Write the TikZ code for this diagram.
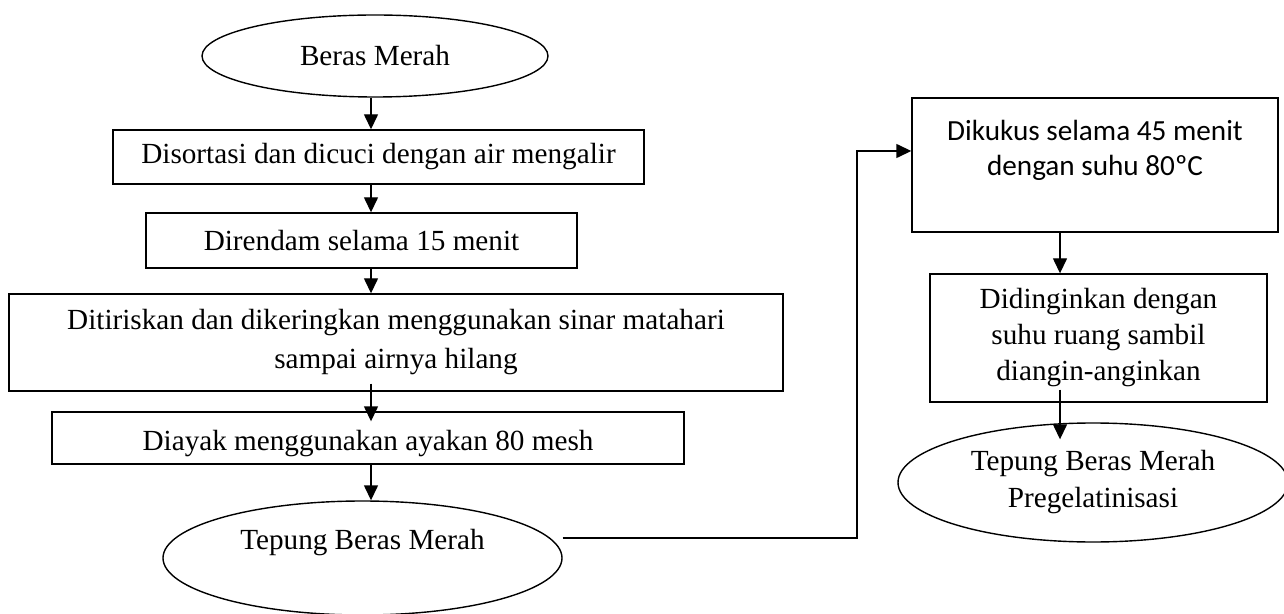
\documentclass[tikz,border=0pt]{standalone}
\usepackage{fontspec}
\setmainfont{Liberation Serif}
\newfontfamily\calfont{Carlito}
\usetikzlibrary{arrows.meta,shapes.geometric}
\tikzset{
  stepbox/.style={draw,line width=0.7pt,align=center,inner sep=0pt,
                  font=\fontsize{14.6}{18.5}\selectfont},
  term/.style={stepbox,ellipse},
  arr/.style={-{Triangle[length=7.5pt,width=7pt]},line width=0.7pt},
}

\begin{document}
\begin{tikzpicture}[x=0.5pt,y=-0.5pt]
  \useasboundingbox (0,0) rectangle (1284,614);
  \coordinate (lc) at (371,0);
  \coordinate (rc) at (1060,0);
  \coordinate (bend) at (857,151);
  \node[term,minimum width=173pt,minimum height=41pt] (bm) at (375,56) {Beras Merah};
  \node[stepbox,minimum width=265.5pt,minimum height=27pt] (d1) at (378.5,157) {Disortasi dan dicuci dengan air mengalir};
  \node[stepbox,minimum width=215.5pt,minimum height=27.5pt] (d2) at (361.5,240.5) {Direndam selama 15 menit};
  \node[stepbox,minimum width=387pt,minimum height=48.5pt,font=\fontsize{14.6}{19.5}\selectfont] (d3) at (396,342.5)
    {Ditiriskan dan dikeringkan menggunakan sinar matahari\\sampai airnya hilang};
  \node[stepbox,minimum width=316pt,minimum height=26pt] (d4) at (368,438)
    {\raisebox{-3pt}[\height][\depth]{Diayak menggunakan ayakan 80 mesh}};
  \node[term,minimum width=199.5pt,minimum height=57pt] (tbm) at (362.5,558) {Tepung Beras Merah\\\mbox{}};
  \node[stepbox,minimum width=183pt,minimum height=67pt,font=\calfont\fontsize{14.6}{17.5}\selectfont] (dik) at (1095,165)
    {Dikukus selama 45 menit\\dengan suhu 80ºC\\\mbox{}};
  \node[stepbox,minimum width=168.5pt,minimum height=64pt,font=\fontsize{14.6}{18}\selectfont] (din) at (1098.5,338)
    {Didinginkan dengan\\suhu ruang sambil\\diangin-anginkan};
  \node[term,minimum width=195pt,minimum height=59.5pt] (pre) at (1093,482.5) {Tepung Beras Merah\\Pregelatinisasi};

  \draw[arr] (bm.south -| lc) -- (d1.north -| lc);
  \draw[arr] (d1.south -| lc) -- (d2.north -| lc);
  \draw[arr] (d2.south -| lc) -- (d3.north -| lc);
  \draw[arr,shorten <=-4pt,shorten >=-5pt] (d3.south -| lc) -- (d4.north -| lc);
  \draw[arr] (d4.south -| lc) -- (tbm.north -| lc);
  \draw[arr] ([yshift=10pt]tbm.east) -| (bend) -- ([yshift=7pt]dik.west);
  \draw[arr] (dik.south -| rc) -- (din.north -| rc);
  \draw[arr,shorten <=-6.5pt,shorten >=-8.5pt] (din.south -| rc) -- (pre.north -| rc);
\end{tikzpicture}
\end{document}
